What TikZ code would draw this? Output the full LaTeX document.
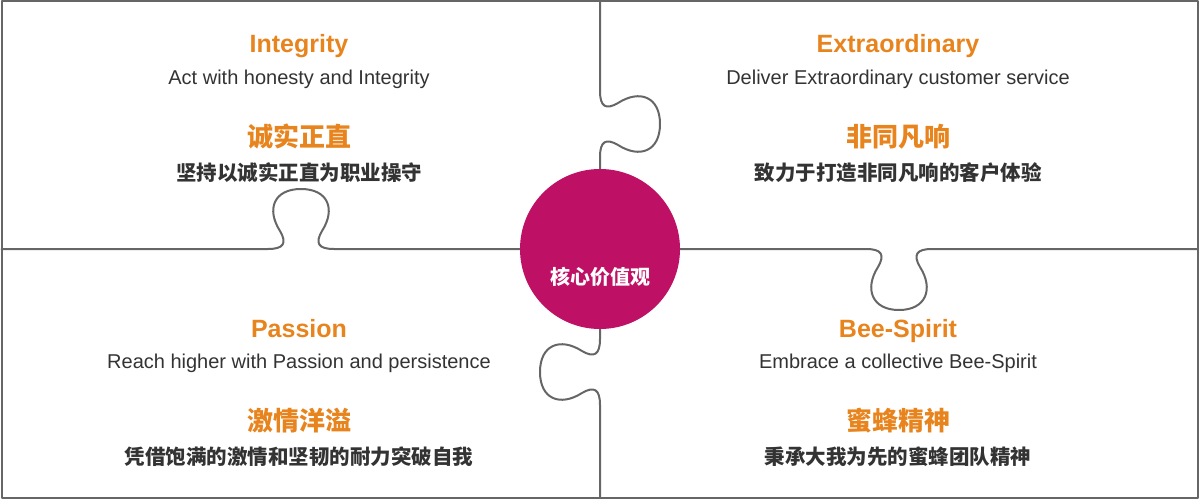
\documentclass[tikz,border=0pt]{standalone}
\usepackage{fontspec}
\setmainfont{Liberation Sans}
\newfontfamily\cjk{Noto Sans CJK SC}
\usetikzlibrary{positioning}
\definecolor{valorange}{HTML}{E8841E}
\definecolor{valmagenta}{HTML}{BE1064}
\definecolor{edgegray}{HTML}{666666}
\definecolor{textgray}{HTML}{333333}

\begin{document}
\begin{tikzpicture}[x=1pt, y=-1pt,
    edge/.style={draw=edgegray, line width=2pt, line join=round, line cap=round},
    entitle/.style={anchor=base, inner sep=0pt, text=valorange, font=\fontsize{25}{30}\selectfont\bfseries},
    endesc/.style={anchor=base, inner sep=0pt, text=textgray, font=\fontsize{20}{24}\selectfont},
    cntitle/.style={inner sep=0pt, text=valorange, font=\cjk\fontsize{26}{30}\selectfont\bfseries},
    cndesc/.style={inner sep=0pt, text=textgray, font=\cjk\fontsize{20.5}{24}\selectfont\bfseries}]
  \useasboundingbox (0,0) rectangle (1200,500);
  \draw[edge] (1.5,1.5) rectangle (1197.5,497.5);
  % horizontal seam with two knobs
  \draw[edge] (1.5,249) -- (268,249)
    .. controls (284,249) and (287,243) .. (280,231)
    .. controls (266,209) and (274,189) .. (301,189)
    .. controls (328,189) and (336,209) .. (322,231)
    .. controls (315,243) and (318,249) .. (334,249)
    -- (866,249)
    .. controls (882,249) and (885,255) .. (878,267)
    .. controls (864,289) and (872,310) .. (899,310)
    .. controls (926,310) and (934,289) .. (920,267)
    .. controls (913,255) and (916,249) .. (932,249)
    -- (1197.5,249);
  % vertical seam with two knobs
  \draw[edge] (600,1.5) -- (600,91)
    .. controls (600,107) and (606,110) .. (618,103)
    .. controls (640,89) and (660,97) .. (660,124)
    .. controls (660,151) and (640,159) .. (618,145)
    .. controls (606,138) and (600,141) .. (600,157)
    -- (600,339)
    .. controls (600,355) and (594,358) .. (582,351)
    .. controls (560,337) and (540,345) .. (540,372)
    .. controls (540,399) and (560,407) .. (582,393)
    .. controls (594,386) and (600,389) .. (600,405)
    -- (600,497.5);
  \node[circle, fill=valmagenta, minimum size=160pt, inner sep=0pt] (core) at (600,249) {};
  \node[text=white, font=\cjk\fontsize{20}{24}\selectfont\bfseries] (core-text) at (600,277) {核心价值观};
  \foreach \x/\y/\nm/\en/\endsc/\cn/\cndsc in {
      299/0/int/Integrity/Act with honesty and Integrity/诚实正直/坚持以诚实正直为职业操守,
      898/0/ext/Extraordinary/Deliver Extraordinary customer service/非同凡响/致力于打造非同凡响的客户体验,
      299/284/pas/Passion/Reach higher with Passion and persistence/激情洋溢/凭借饱满的激情和坚韧的耐力突破自我,
      898/284/bee/Bee-Spirit/Embrace a collective Bee-Spirit/蜜蜂精神/秉承大我为先的蜜蜂团队精神} {
    \node[entitle] (\nm-en) at (\x,53+\y) {\en};
    \node[endesc] (\nm-endesc) at (\x,84.5+\y) {\endsc};
    \node[cntitle] (\nm-cn) at (\x,136.5+\y) {\cn};
    \node[cndesc] (\nm-cndesc) at (\x,172.5+\y) {\cndsc};
  }
\end{tikzpicture}
\end{document}
